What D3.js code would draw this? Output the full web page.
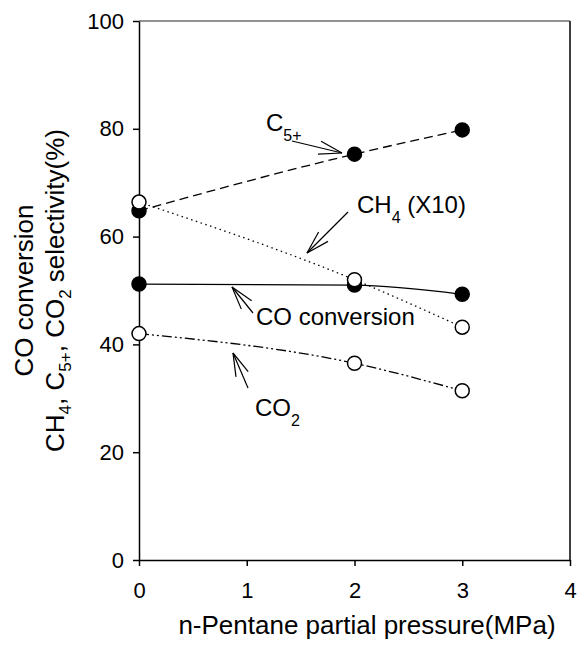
<!DOCTYPE html>
<html>
<head>
<meta charset="utf-8">
<script src="https://cdn.jsdelivr.net/npm/d3@7"></script>
<style>
  body { margin: 0; background: #fff; overflow: hidden; }
  svg { font-family: "Liberation Sans", Arial, sans-serif; display: block; }
</style>
</head>
<body>
<svg id="chart" width="579" height="647"></svg>
<script>
// n-pentane partial pressure vs. CO conversion / selectivities
var pressure = [0, 2, 3];
var c5plus = [64.8, 75.3, 79.8];
var coConv = [51.2, 51.0, 49.3];
var ch4x10 = [66.4, 52.0, 43.2];
var co2 = [42.0, 36.5, 31.4];
var xTicks = [0, 1, 2, 3, 4];
var yTicks = [0, 20, 40, 60, 80, 100];

var svg = d3.select("#chart");
var pLeft = 139, pRight = 570, pTop = 21, pBottom = 560;

var x = d3.scaleLinear().domain([0, 4]).range([pLeft, pRight]);
var y = d3.scaleLinear().domain([0, 100]).range([pBottom, pTop]);

// frame
svg.append("line")
    .attr("x1", pLeft).attr("x2", pRight).attr("y1", pTop).attr("y2", pTop)
    .attr("stroke", "#6e6e6e").attr("stroke-width", 1.5);
svg.append("line")
    .attr("x1", pRight).attr("x2", pRight).attr("y1", pTop).attr("y2", pBottom)
    .attr("stroke", "#000").attr("stroke-width", 1.5);

svg.append("g")
    .attr("transform", "translate(" + pLeft + ",0)")
    .call(d3.axisLeft(y).tickValues(yTicks).tickFormat(d3.format("d"))
        .tickSize(6).tickSizeOuter(0).tickPadding(9));
svg.append("g")
    .attr("transform", "translate(0," + pBottom + ")")
    .call(d3.axisBottom(x).tickValues(xTicks).tickFormat(d3.format("d"))
        .tickSize(6).tickSizeOuter(0).tickPadding(16));

svg.selectAll(".tick text").attr("font-size", 22)
    .attr("font-family", "Liberation Sans, Arial, sans-serif").attr("fill", "#000");
svg.selectAll(".domain, .tick line").attr("stroke", "#000").attr("stroke-width", 1.5);

// axis titles
svg.append("text")
    .attr("x", 367).attr("y", 634)
    .attr("text-anchor", "middle").attr("font-size", 26)
    .text("n-Pentane partial pressure(MPa)");

var yMid = (pTop + pBottom) / 2;
svg.append("text")
    .attr("transform", "translate(33," + yMid + ") rotate(-90)")
    .attr("text-anchor", "middle").attr("font-size", 26)
    .text("CO conversion");
var yt2 = svg.append("text")
    .attr("transform", "translate(64," + yMid + ") rotate(-90)")
    .attr("text-anchor", "middle").attr("font-size", 26);
yt2.append("tspan").text("CH");
yt2.append("tspan").attr("font-size", 17).attr("dy", 7).text("4");
yt2.append("tspan").attr("dy", -7).text(", C");
yt2.append("tspan").attr("font-size", 17).attr("dy", 7).text("5+");
yt2.append("tspan").attr("dy", -7).text(", CO");
yt2.append("tspan").attr("font-size", 17).attr("dy", 7).text("2");
yt2.append("tspan").attr("dy", -7).text(" selectivity(%)");

// lines
function lineFor(vals) {
    return d3.line()
        .x(function(d, i) { return x(pressure[i]); })
        .y(function(d) { return y(d); })
        .curve(d3.curveMonotoneX)(vals);
}

var series = [
    { vals: c5plus, dash: "9,5", filled: true },
    { vals: ch4x10, dash: "1.5,3.5", filled: false },
    { vals: coConv, dash: null, filled: true },
    { vals: co2, dash: "10,3,2,3,2,3", filled: false }
];

series.forEach(function(s) {
    svg.append("path")
        .attr("d", lineFor(s.vals))
        .attr("fill", "none")
        .attr("stroke", "#000")
        .attr("stroke-width", 1.3)
        .attr("stroke-dasharray", s.dash);
});

// markers, filled drawn before open so open ones sit on top
[series[0], series[2], series[1], series[3]].forEach(function(s) {
    svg.selectAll(null)
        .data(s.vals)
        .enter().append("circle")
        .attr("cx", function(d, i) { return x(pressure[i]); })
        .attr("cy", function(d) { return y(d); })
        .attr("r", 7)
        .attr("fill", s.filled ? "#000" : "#fff")
        .attr("stroke", "#000")
        .attr("stroke-width", 1.5);
});

// annotation arrows
function arrow(x1, y1, x2, y2) {
    var ang = Math.atan2(y1 - y2, x1 - x2), len = 24, spread = 0.28;
    var g = svg.append("g").attr("stroke", "#000").attr("stroke-width", 1.2);
    g.append("line").attr("x1", x1).attr("y1", y1).attr("x2", x2).attr("y2", y2);
    [-spread, spread].forEach(function(a) {
        g.append("line").attr("x1", x2).attr("y1", y2)
            .attr("x2", x2 + len * Math.cos(ang + a))
            .attr("y2", y2 + len * Math.sin(ang + a));
    });
}
arrow(292, 141, 342, 153);
arrow(348, 212, 307, 253);
arrow(253, 313, 232, 287);
arrow(248, 388, 233, 353);

function label(xp, yp, parts) {
    var t = svg.append("text").attr("x", xp).attr("y", yp).attr("font-size", 24);
    parts.forEach(function(p) {
        if (p.sub) t.append("tspan").attr("font-size", 16).attr("dy", 10).text(p.s);
        else t.append("tspan").attr("dy", p.back ? -10 : 0).text(p.s);
    });
}
label(266, 131, [{ s: "C" }, { s: "5+", sub: true }]);
label(357, 213, [{ s: "CH" }, { s: "4", sub: true }, { s: " (X10)", back: true }]);
label(256, 325, [{ s: "CO conversion" }]);
label(255, 416, [{ s: "CO" }, { s: "2", sub: true }]);
</script>
</body>
</html>
